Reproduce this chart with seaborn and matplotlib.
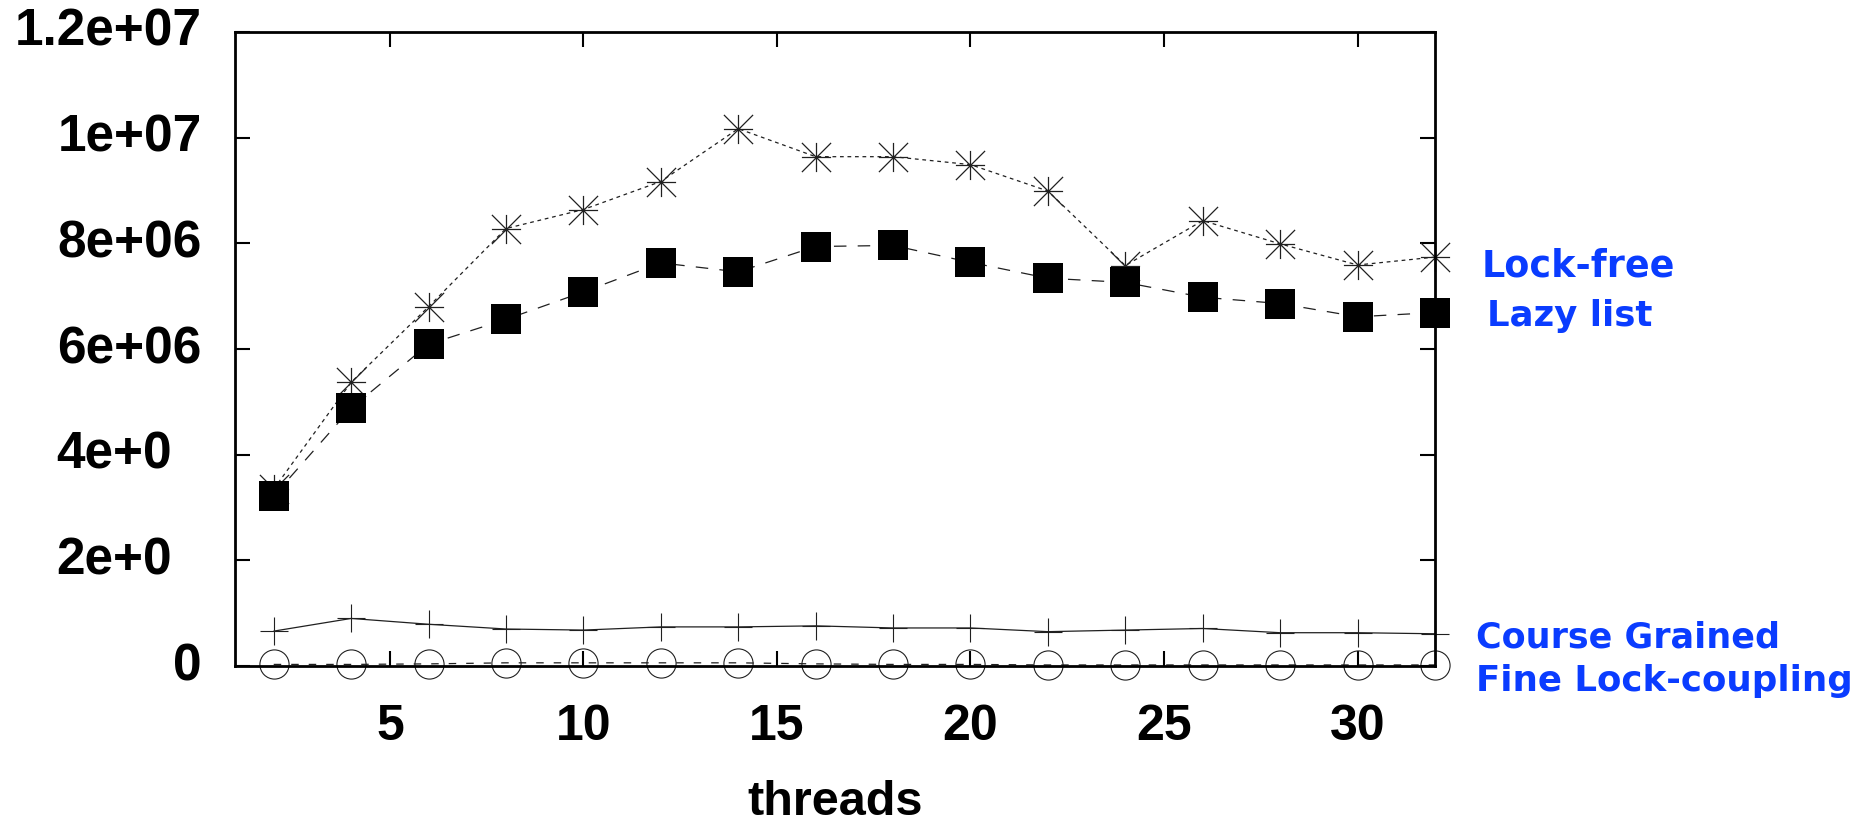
# wykres_watki.py
"""Przepustowość list współbieżnych w zależności od liczby wątków."""

import matplotlib
matplotlib.use('Agg')
import matplotlib.pyplot as plt
from matplotlib.path import Path
from matplotlib.transforms import ScaledTranslation
import seaborn as sns

# dane (w milionach operacji)
watki = [2, 4, 6, 8, 10, 12, 14, 16, 18, 20, 22, 24, 26, 28, 30, 32]
lock_free = [3.35, 5.37, 6.80, 8.28, 8.64, 9.17, 10.17, 9.64, 9.64, 9.49,
             8.99, 7.58, 8.43, 7.99, 7.59, 7.74]
lazy_list = [3.22, 4.88, 6.09, 6.56, 7.08, 7.63, 7.46, 7.94, 7.96, 7.64,
             7.34, 7.26, 6.98, 6.86, 6.61, 6.69]
course_grained = [0.66, 0.90, 0.79, 0.70, 0.68, 0.74, 0.74, 0.76, 0.72, 0.72,
                  0.65, 0.68, 0.71, 0.63, 0.63, 0.61]
fine_lock = [0.03, 0.03, 0.04, 0.06, 0.06, 0.06, 0.06, 0.04, 0.03, 0.03,
             0.02, 0.02, 0.02, 0.02, 0.02, 0.02]

y_ticki = [0, 2e6, 4e6, 6e6, 8e6, 1e7, 1.2e7]
y_etykiety = ['0', '2e+0', '4e+0', '6e+06', '8e+06', '1e+07', '1.2e+07']
x_ticki = [5, 10, 15, 20, 25, 30]

sns.set_style('ticks')
plt.rcParams['font.family'] = ['Liberation Sans', 'DejaVu Sans']

W, H = 1866, 822
fig = plt.figure(figsize=(W / 100, H / 100), dpi=100)
ax = fig.add_axes([235 / W, 1 - 666 / H, 1200 / W, 634 / H])

# gwiazdka w stylu gnuplota: plus i krzyżyk razem
gwiazdka = Path([(-1, 0), (1, 0), (0, -1), (0, 1), (-1, -1), (1, 1), (-1, 1), (1, -1)],
                [Path.MOVETO, Path.LINETO] * 4)

mln = lambda wart: [v * 1e6 for v in wart]
kolor = '#202020'

sns.lineplot(x=watki, y=mln(lock_free), ax=ax, color=kolor, lw=0.9,
             linestyle=(0, (3, 3)), marker=gwiazdka, markersize=21,
             mew=0.9, mec=kolor, clip_on=False)
sns.lineplot(x=watki, y=mln(lazy_list), ax=ax, color=kolor, lw=0.9,
             linestyle=(0, (10, 9)), marker='s', markersize=21,
             mfc='black', mec='black', mew=0, clip_on=False)
sns.lineplot(x=watki, y=mln(course_grained), ax=ax, color=kolor, lw=0.9,
             linestyle='-', marker='+', markersize=20, mew=0.8, mec=kolor,
             clip_on=False)
sns.lineplot(x=watki, y=mln(fine_lock), ax=ax, color=kolor, lw=0.9,
             linestyle=(0, (6, 8)), marker='o', markersize=21,
             mfc='none', mec=kolor, mew=0.8, clip_on=False)

ax.set_xlim(1, 32)
ax.set_ylim(0, 1.2e7)
ax.set_xticks(x_ticki)
ax.set_yticks(y_ticki)
ax.set_yticklabels(y_etykiety)

for s in ax.spines.values():
    s.set_linewidth(2)
    s.set_color('black')
    s.set_visible(True)

ax.tick_params(direction='in', length=11, width=1.5, top=True, right=True,
               colors='black', labelcolor='black')
ax.tick_params(axis='x', labelsize=36, pad=27)
ax.tick_params(axis='y', labelsize=37, pad=24)
for et in ax.get_xticklabels() + ax.get_yticklabels():
    et.set_fontweight('bold')

ax.set_xlabel('threads', fontsize=35, fontweight='bold', color='black', labelpad=22)
ax.set_ylabel('')

# przesunięcie etykiet osi y (lekko w górę, obcięte w lewo)
for et in ax.get_yticklabels():
    dx = -30 / 100 if et.get_text() in ('2e+0', '4e+0') else 0
    et.set_transform(et.get_transform() + ScaledTranslation(dx, 5 / 100, fig.dpi_scale_trans))

# podpisy serii na prawo od wykresu
niebieski = '#0a3cff'
podpisy = [('Lock-free', 1482, 276, 26.3), ('Lazy list', 1487, 326, 25.6),
           ('Course Grained', 1476, 647, 25.2), ('Fine Lock-coupling', 1476, 691, 25.7)]
for tekst, px, py, rozm in podpisy:
    fig.text(px / W, 1 - py / H, tekst, color=niebieski, fontsize=rozm,
             fontweight='bold', family=['DejaVu Sans'], ha='left', va='baseline')

fig.savefig('out.png', dpi=100, facecolor='white')
